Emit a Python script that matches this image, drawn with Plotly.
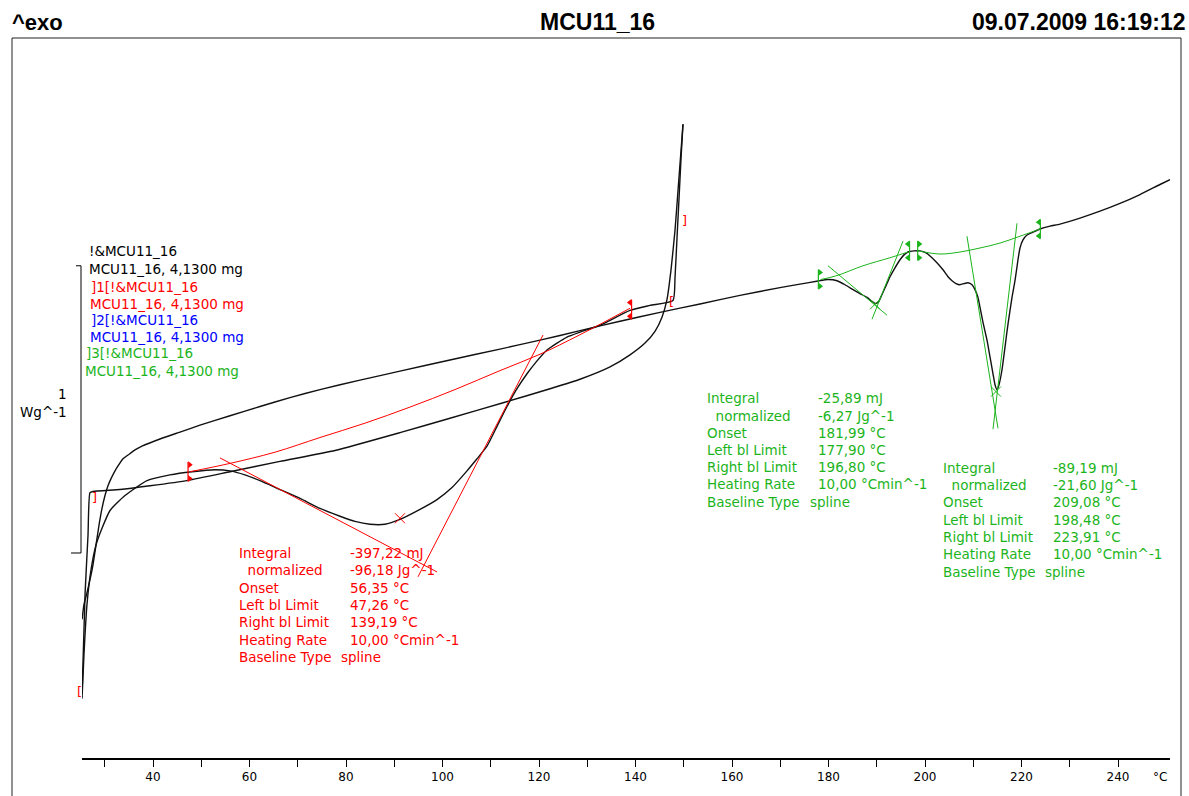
import plotly.graph_objects as go

# ---------------- data (temperature in °C, heat flow in W/g, arbitrary zero) ----------------
# Segment 1: first heating with the large endotherm
e_temp = [25.29, 25.70, 26.32, 27.15, 28.19, 29.43, 31.09, 34.20, 38.76, 43.52, 48.08, 52.85, 55.96,
          59.07, 62.18, 66.32, 70.47, 74.61, 78.76, 81.87, 84.97, 88.08, 91.19, 95.34, 98.86, 101.97,
          105.08, 107.15, 109.22, 111.30, 113.37, 115.44, 117.51, 119.59, 121.66, 123.73, 125.80,
          128.50, 132.64, 138.86, 143.00, 147.77, 148.19, 148.60, 149.02, 149.43, 149.84]
e_hf = [-0.507, -0.352, -0.179, -0.059, 0.028, 0.086, 0.148, 0.200, 0.252, 0.272, 0.283, 0.290, 0.286,
        0.272, 0.252, 0.221, 0.190, 0.155, 0.128, 0.110, 0.100, 0.100, 0.117, 0.152, 0.186, 0.228,
        0.286, 0.328, 0.372, 0.441, 0.510, 0.572, 0.624, 0.669, 0.707, 0.731, 0.752,
        0.769, 0.793, 0.845, 0.862, 0.879, 0.959, 1.097, 1.234, 1.372, 1.493]

# Segment 2: cooling
c_temp = [25.30, 25.91, 26.53, 26.94, 27.56, 33.16, 39.38, 47.25, 55.96, 66.32, 77.72, 91.19, 101.55,
          112.75, 122.28, 128.50, 134.72, 138.86, 141.97, 144.04, 145.49, 146.53, 147.36, 148.19,
          148.81, 149.43, 149.84]
c_hf = [-0.490, -0.145, 0.062, 0.210, 0.214, 0.221, 0.234, 0.253, 0.283, 0.319, 0.357, 0.419, 0.469,
        0.524, 0.572, 0.605, 0.648, 0.690, 0.731, 0.772, 0.821, 0.883, 0.986, 1.124,
        1.262, 1.400, 1.493]

# Segment 3: second heating up to 250 °C
u_temp = [25.30, 25.70, 26.32, 26.94, 27.56, 28.19, 28.81, 29.43, 30.05, 30.67, 31.30, 32.13, 32.75, 33.78,
          34.82, 36.27, 37.72, 41.45, 45.60, 49.74, 55.96, 62.18, 68.39, 74.61, 82.90, 91.19, 101.55,
          111.92, 120.21, 128.50, 136.79, 145.08, 153.37, 161.66, 169.95, 174.09,
          177.82, 179.90, 181.77, 183.42, 185.08, 186.53, 187.98, 189.02, 189.64, 190.26, 191.09, 191.92,
          192.75, 193.78, 194.82, 195.65, 196.48, 197.72, 198.96, 200.21, 201.04, 202.28, 203.73, 204.77,
          205.60, 206.42, 207.25, 208.08, 208.91, 209.74, 210.36, 210.98, 211.40, 212.02, 212.85, 213.47,
          214.09, 214.51, 214.92, 215.34, 215.96, 216.58, 217.20, 218.03, 218.65, 219.27, 219.69, 220.31,
          221.14, 222.38, 223.83, 225.91, 227.98, 232.12, 236.27, 240.41, 244.56, 248.70, 250.78]
u_hf = [-0.231, -0.179, -0.138, -0.093, -0.041, 0.028, 0.097, 0.155, 0.200, 0.234, 0.259, 0.286, 0.303, 0.328,
        0.341, 0.359, 0.372, 0.397, 0.421, 0.445, 0.478, 0.510, 0.541, 0.569, 0.602, 0.633, 0.672,
        0.710, 0.741, 0.774, 0.807, 0.838, 0.867, 0.897, 0.924, 0.936,
        0.947, 0.952, 0.948, 0.934, 0.917, 0.903, 0.890, 0.876, 0.869, 0.872, 0.900, 0.931,
        0.962, 0.993, 1.021, 1.038, 1.048, 1.052, 1.052, 1.045, 1.034, 1.014, 0.986, 0.962,
        0.948, 0.938, 0.934, 0.938, 0.941, 0.934, 0.917, 0.890, 0.855, 0.803, 0.741, 0.683,
        0.624, 0.586, 0.569, 0.586, 0.638, 0.717, 0.797, 0.890, 0.948, 1.021, 1.062, 1.090,
        1.107, 1.117, 1.128, 1.138, 1.145, 1.166, 1.190, 1.217, 1.248, 1.283, 1.300]

# Evaluation 1 (red): spline baseline and tangents
red_base_temp = [47.67, 55.96, 65.28, 74.61, 83.94, 93.26, 102.59, 111.92, 120.21, 128.50, 138.86]
red_base_hf = [0.283, 0.312, 0.351, 0.402, 0.452, 0.508, 0.569, 0.635, 0.692, 0.760, 0.852]
red_tan1_temp = [53.89, 98.86]
red_tan1_hf = [0.331, -0.066]
red_tan2_temp = [120.83, 94.92]
red_tan2_hf = [0.759, -0.083]
red_x_temp = [91.19]
red_x_hf = [0.121]
red_limits_temp = [47.26, 139.19]
red_limits_hf = [0.283, 0.848]

# Evaluations 2 and 3 (green)
g_base1_temp = [178.34, 181.77, 187.15, 192.75, 196.48]
g_base1_hf = [0.952, 0.966, 1.000, 1.028, 1.048]
g_base2_temp = [198.55, 203.11, 207.25, 211.40, 215.54, 219.69, 223.83]
g_base2_hf = [1.052, 1.041, 1.048, 1.062, 1.079, 1.103, 1.128]
g_tan_temp = [[179.90, 192.12], [189.02, 195.44], [208.70, 215.13], [219.07, 214.09]]
g_tan_hf = [[1.000, 0.828], [0.814, 1.086], [1.103, 0.434], [1.148, 0.431]]
g_x_temp = [189.64, 214.70]
g_x_hf = [0.866, 0.562]
g_limits_temp = [177.90, 196.80, 198.48, 223.91]
g_limits_hf = [0.953, 1.052, 1.052, 1.128]

# Segment brackets
br_temp = [24.70, 27.95, 147.45, 150.10]
br_hf = [-0.483, 0.193, 0.876, 1.159]
br_txt = ["[", "]", "[", "]"]

# Texts
legend_lines = ["!&MCU11_16", "MCU11_16, 4,1300 mg", "]1[!&MCU11_16", "MCU11_16, 4,1300 mg",
                "]2[!&MCU11_16", "MCU11_16, 4,1300 mg", "]3[!&MCU11_16", "MCU11_16, 4,1300 mg"]
eval_labels = ["Integral", "\u00a0\u00a0normalized", "Onset", "Left bl Limit", "Right bl Limit",
               "Heating Rate", "Baseline Type"]
red_values = ["-397,22 mJ", "-96,18 Jg^-1", "56,35 °C", "47,26 °C", "139,19 °C", "10,00 °Cmin^-1"]
g1_values = ["-25,89 mJ", "-6,27 Jg^-1", "181,99 °C", "177,90 °C", "196,80 °C", "10,00 °Cmin^-1"]
g2_values = ["-89,19 mJ", "-21,60 Jg^-1", "209,08 °C", "198,48 °C", "223,91 °C", "10,00 °Cmin^-1"]
tick_vals = [30, 40, 50, 60, 70, 80, 90, 100, 110, 120, 130, 140, 150, 160, 170, 180, 190, 200, 210,
             220, 230, 240]

# ---------------- layout geometry ----------------
W, H = 1189, 796
ML, MR, MT, MB = 82, 19, 38, 31
PW, PH = W - ML - MR, H - MT - MB
XR = [25.285, 250.777]
YR = [-0.7138, 1.7931]

RED = "#ff0000"
BLUE = "#0000ff"
GREEN = "#1cb41c"
BLACK = "#000000"
FONT = "DejaVu Sans"
FS = 13.5


def pxx(px):
    return (px - ML) / PW


def pyy(py):
    return (H - MB - py) / PH


def dx2paper(t):
    return (t - XR[0]) / (XR[1] - XR[0])


def dy2paper(h):
    return (h - YR[0]) / (YR[1] - YR[0])


fig = go.Figure()

for t, h in [(u_temp, u_hf), (c_temp, c_hf), (e_temp, e_hf)]:
    fig.add_trace(go.Scatter(x=t, y=h, mode="lines",
                             line=dict(color="#111111", width=1.4, shape="spline", smoothing=0.5),
                             hoverinfo="skip", cliponaxis=False))

# red evaluation
fig.add_trace(go.Scatter(x=red_base_temp, y=red_base_hf, mode="lines",
                         line=dict(color=RED, width=1, shape="spline"), hoverinfo="skip"))
for tt, hh in [(red_tan1_temp, red_tan1_hf), (red_tan2_temp, red_tan2_hf)]:
    fig.add_trace(go.Scatter(x=tt, y=hh, mode="lines", line=dict(color=RED, width=1), hoverinfo="skip"))
fig.add_trace(go.Scatter(x=red_x_temp, y=red_x_hf, mode="markers",
                         marker=dict(symbol="x-thin", size=10, line=dict(color=RED, width=1)), hoverinfo="skip"))

# green evaluation
for tt, hh in [(g_base1_temp, g_base1_hf), (g_base2_temp, g_base2_hf)]:
    fig.add_trace(go.Scatter(x=tt, y=hh, mode="lines", line=dict(color=GREEN, width=1, shape="spline"),
                             hoverinfo="skip"))
for tt, hh in zip(g_tan_temp, g_tan_hf):
    fig.add_trace(go.Scatter(x=tt, y=hh, mode="lines", line=dict(color=GREEN, width=1), hoverinfo="skip"))
fig.add_trace(go.Scatter(x=g_x_temp, y=g_x_hf, mode="markers",
                         marker=dict(symbol="x-thin", size=10, line=dict(color=GREEN, width=1)), hoverinfo="skip"))


# baseline limit markers
def limit_marker(t, h, color, right_side):
    d = 0.034
    fig.add_trace(go.Scatter(x=[t, t], y=[h - d, h + d], mode="lines", line=dict(color=color, width=1.2),
                             hoverinfo="skip"))
    sym = "triangle-right" if right_side else "triangle-left"
    off = 0.35 if right_side else -0.35
    fig.add_trace(go.Scatter(x=[t + off, t + off], y=[h - d + 0.01, h + d - 0.01], mode="markers",
                             marker=dict(symbol=sym, size=6, color=color), hoverinfo="skip"))


limit_marker(red_limits_temp[0], red_limits_hf[0], RED, True)
limit_marker(red_limits_temp[1], red_limits_hf[1], RED, False)
for i, (t, h) in enumerate(zip(g_limits_temp, g_limits_hf)):
    limit_marker(t, h, GREEN, i % 2 == 0)

annotations = []

# brackets (segment limits), placed from data values
for t, h, s in zip(br_temp, br_hf, br_txt):
    annotations.append(dict(x=dx2paper(t), y=dy2paper(h), xref="paper", yref="paper", text=s, showarrow=False,
                            xanchor="center", yanchor="middle", font=dict(color=RED, size=13, family=FONT)))


def txt(px, py, s, color=BLACK, size=FS, xanchor="left", family=FONT):
    annotations.append(dict(x=pxx(px), y=pyy(py), xref="paper", yref="paper", text=s, showarrow=False,
                            xanchor=xanchor, yanchor="middle", font=dict(color=color, size=size, family=family)))


# header
txt(10, 22, "<b>^exo</b>", size=22, family="Liberation Sans")
txt(597, 22, "<b>MCU11_16</b>", size=23, xanchor="center", family="Liberation Sans")
txt(1188, 22, "<b>09.07.2009 16:19:12</b>", size=23, xanchor="right", family="Liberation Sans")

# legend lines
leg_colors = [BLACK, BLACK, RED, RED, BLUE, BLUE, GREEN, GREEN]
leg_x = [89, 89, 91, 90, 91, 90, 86, 85]
leg_y = [253, 271, 289, 307, 323, 340, 356, 374]
for s, c, lx, ly in zip(legend_lines, leg_colors, leg_x, leg_y):
    txt(lx - 2, ly, s, color=c)

# y scale label
txt(69, 397, "1", xanchor="right")
txt(69, 416, "Wg^-1", xanchor="right")

# evaluation blocks
for (lx, vx, y0, step, vals, color, spl_x) in [
        (237, 348, 558, 17.5, red_values, RED, 339),
        (705, 816, 402, 17.35, g1_values, GREEN, 808),
        (941, 1051, 472, 17.5, g2_values, GREEN, 1043)]:
    for i, lab in enumerate(eval_labels):
        txt(lx, y0 + i * step, lab, color=color)
    for i, v in enumerate(vals):
        txt(vx, y0 + i * step, v, color=color)
    txt(spl_x, y0 + 6 * step, "spline", color=color)

# unit of x axis
txt(1160, 784, "°C", size=12, xanchor="center")

shapes = [
    # outer frame
    dict(type="rect", xref="paper", yref="paper", x0=pxx(12), x1=pxx(1181), y0=pyy(805), y1=pyy(38),
         line=dict(color="#222222", width=1)),
    # scale bar 1 W/g
    dict(type="line", xref="paper", yref="y", x0=pxx(81), x1=pxx(81), y0=0, y1=1, line=dict(color=BLACK, width=1)),
    dict(type="line", xref="paper", yref="y", x0=pxx(76), x1=pxx(81), y0=1, y1=1, line=dict(color=BLACK, width=1)),
    dict(type="line", xref="paper", yref="y", x0=pxx(71), x1=pxx(81), y0=0, y1=0, line=dict(color=BLACK, width=1)),
]

fig.update_layout(
    width=W, height=H,
    margin=dict(l=ML, r=MR, t=MT, b=MB, pad=0),
    paper_bgcolor="white", plot_bgcolor="white",
    showlegend=False,
    annotations=annotations,
    shapes=shapes,
    xaxis=dict(range=XR, showgrid=False, zeroline=False, showline=True, linecolor=BLACK, linewidth=2,
               ticks="outside", ticklen=7, tickwidth=1, tickcolor=BLACK,
               tickvals=tick_vals, ticktext=[str(v) if v % 20 == 0 else "" for v in tick_vals],
               tickfont=dict(family=FONT, size=12, color=BLACK), fixedrange=True),
    yaxis=dict(range=YR, visible=False, fixedrange=True),
)

fig.write_html("out.html", config={"displayModeBar": False},
               post_script="document.body.style.margin='0';")
